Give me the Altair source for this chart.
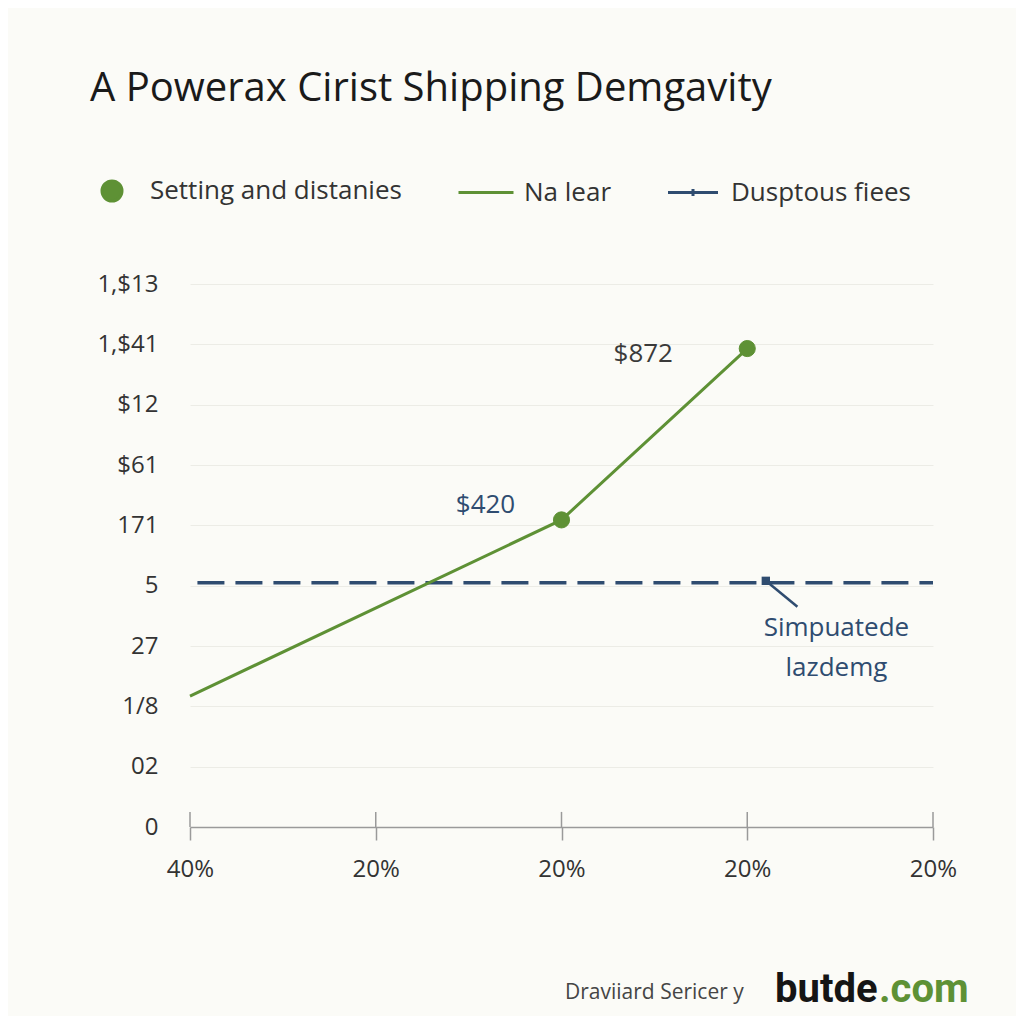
import json
import altair as alt
import pandas as pd

# ---------------- data ----------------
title_text = "A Powerax Cirist Shipping Demgavity"
series_names = ["Setting and distanies", "Na lear", "Dusptous fiees"]
y_tick_labels = ["0", "02", "1/8", "27", "5", "171", "$61", "$12", "1,$41", "1,$13"]
y_tick_values = list(range(10))
x_tick_labels = ["40%", "20%", "20%", "20%", "20%"]
x_tick_values = [0, 1, 2, 3, 4]

line_x = [0, 2, 3]
line_y = [2.17, 5.09, 7.93]
point_x = [2, 3]
point_y = [5.09, 7.93]
point_labels = ["$420", "$872"]

ref_y = [4.05]
ref_x_start = [0.04]
ref_x_end = [4.0]

note_marker_x = [3.1]
note_marker_y = [4.08]
note_leader_x2 = [3.27]
note_leader_y2 = [3.65]
note_text_x = [3.48]
note_text_y = [3.52]
note_text = ["Simpuatede\nlazdemg"]

footer_left = ["Draviiard Sericer y"]
footer_brand = ["butde"]
footer_tld = [".com"]

# ---------------- styles ----------------
GREEN = "#5e9135"
BLUE = "#2f4c70"
TEXT = "#333333"
FONT = "Open Sans"

x_scale = alt.Scale(domain=[0, 4], nice=False, zero=False)
y_scale = alt.Scale(domain=[0, 9], nice=False, zero=False)

x_axis = alt.Axis(
    values=x_tick_values,
    labelExpr=f"{json.dumps(x_tick_labels)}[datum.value]",
    title=None, grid=False, domainColor="#9a9a9a", domainWidth=1.5,
    tickColor="#9a9a9a", tickWidth=1.5, tickSize=13, labelPadding=17,
    labelFontSize=24, labelFont=FONT, labelColor=TEXT, labelFlush=False,
)
y_axis = alt.Axis(
    values=y_tick_values,
    labelExpr=f"{json.dumps(y_tick_labels)}[datum.value]",
    title=None, domain=False, ticks=False, grid=True,
    gridColor="#ecece6", gridWidth=1, labelPadding=32,
    labelFontSize=24, labelFont=FONT, labelColor=TEXT,
)

X = alt.X("x:Q", scale=x_scale, axis=x_axis)
Y = alt.Y("y:Q", scale=y_scale, axis=y_axis)

legend = alt.Legend(
    title=None, orient="none", legendX=-91, legendY=-106,
    direction="horizontal", symbolSize=400, symbolStrokeWidth=3,
    symbolOpacity=1,
    labelFontSize=26, labelFont=FONT, labelColor=TEXT, labelLimit=500,
    labelOffset=25, columnPadding=50, padding=0,
)
stroke_scale = alt.Scale(domain=series_names, range=[GREEN, GREEN, BLUE])
fill_scale = alt.Scale(domain=series_names, range=[GREEN, GREEN, BLUE])
shape_scale = alt.Scale(
    domain=series_names,
    range=["circle", "M-2.75,0L2.75,0", "M-2.5,0L2.5,0M0,-0.35L0,0.35"],
)

# ---------------- layers ----------------
line_df = pd.DataFrame({"x": line_x, "y": line_y, "series": series_names[1]})
pts_df = pd.DataFrame({"x": point_x, "y": point_y, "label": point_labels,
                       "series": series_names[0]})
ref_df = pd.DataFrame({"x": ref_x_start, "x2": ref_x_end, "y": ref_y,
                       "series": series_names[2]})
tick_df = pd.DataFrame({"x": x_tick_values, "y": 0, "y2": 0.25})
note_df = pd.DataFrame({"x": note_marker_x, "y": note_marker_y,
                        "x2": note_leader_x2, "y2": note_leader_y2})
note_txt_df = pd.DataFrame({"x": note_text_x, "y": note_text_y, "t": note_text})

ref_layer = alt.Chart(ref_df).mark_rule(strokeWidth=3.5, strokeDash=[27, 11], opacity=1).encode(
    x=X, x2="x2:Q", y=Y,
    stroke=alt.Stroke("series:N", scale=stroke_scale, legend=legend),
)

line_layer = alt.Chart(line_df).mark_line(strokeWidth=3, opacity=1).encode(
    x=X, y=Y,
    stroke=alt.Stroke("series:N", scale=stroke_scale, legend=legend),
)

pts_layer = alt.Chart(pts_df).mark_point(filled=True, size=260, strokeWidth=1, opacity=1).encode(
    x=X, y=Y,
    fill=alt.Fill("series:N", scale=fill_scale, legend=legend),
    stroke=alt.Stroke("series:N", scale=stroke_scale, legend=legend),
    shape=alt.Shape("series:N", scale=shape_scale, legend=legend),
)

tick_up = alt.Chart(tick_df).mark_rule(color="#9a9a9a", strokeWidth=1.5).encode(
    x=X, y=Y, y2="y2:Q"
)

lbl_420 = alt.Chart(pts_df).transform_filter(alt.datum.x == point_x[0]).mark_text(
    font=FONT, fontSize=26, color=BLUE, dx=-76, dy=-15, baseline="middle"
).encode(x=X, y=Y, text="label:N")

lbl_872 = alt.Chart(pts_df).transform_filter(alt.datum.x == point_x[1]).mark_text(
    font=FONT, fontSize=26, color="#3a3a3a", dx=-104, dy=5, baseline="middle"
).encode(x=X, y=Y, text="label:N")

note_marker = alt.Chart(note_df).mark_square(size=70, color=BLUE, filled=True, opacity=1).encode(
    x=X, y=Y
)
note_leader = alt.Chart(note_df).mark_rule(color=BLUE, strokeWidth=2.5).encode(
    x=X, y=Y, x2="x2:Q", y2="y2:Q"
)
note_text_layer = alt.Chart(note_txt_df).mark_text(
    font=FONT, fontSize=26, color=BLUE, baseline="top", align="center",
    lineBreak="\n", lineHeight=40,
).encode(x=X, y=Y, text="t:N")

foot_left = alt.Chart(pd.DataFrame({"t": footer_left})).mark_text(
    font=FONT, fontSize=21, color="#454545", align="left", baseline="alphabetic"
).encode(x=alt.value(375), y=alt.value(715), text="t:N")
foot_brand = alt.Chart(pd.DataFrame({"t": footer_brand})).mark_text(
    font="Roboto", fontSize=40, fontWeight="bold", color="#151515",
    align="left", baseline="alphabetic"
).encode(x=alt.value(585), y=alt.value(718), text="t:N")
foot_tld = alt.Chart(pd.DataFrame({"t": footer_tld})).mark_text(
    font="Roboto", fontSize=40, fontWeight="bold", color=GREEN,
    align="left", baseline="alphabetic"
).encode(x=alt.value(689), y=alt.value(718), text="t:N")

chart = alt.layer(
    tick_up, ref_layer, line_layer, pts_layer, lbl_420, lbl_872,
    note_leader, note_marker, note_text_layer, foot_left, foot_brand, foot_tld,
).properties(
    width=743, height=543,
    title=alt.TitleParams(
        text=title_text, anchor="start", frame="group", dx=-100, offset=37,
        font=FONT, fontSize=40, fontWeight="normal", color="#1a1a1a",
        baseline="alphabetic",
    ),
    autosize=alt.AutoSizeParams(type="none"),
    padding={"left": 182, "top": 276, "right": 83, "bottom": 189},
).configure(background="#fbfbf7").configure_view(stroke=None)

chart.save("out.html", embed_options={"renderer": "svg", "actions": False})
